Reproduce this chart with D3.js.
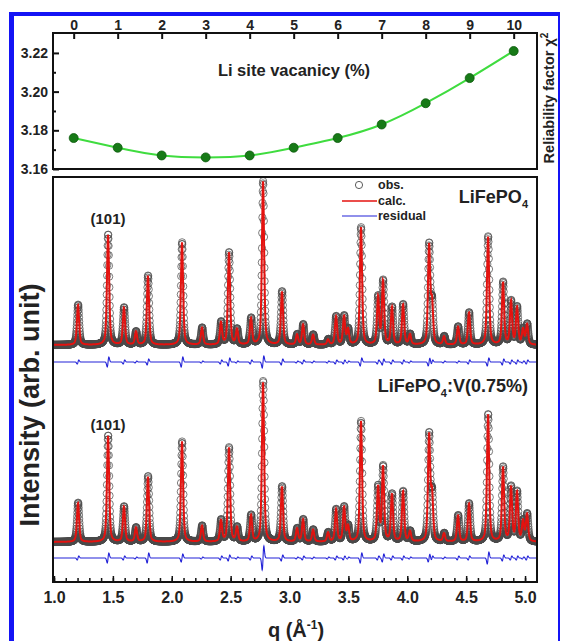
<!DOCTYPE html>
<html>
<head>
<meta charset="utf-8">
<script src="https://cdn.jsdelivr.net/npm/d3@7"></script>
<style>
  body { margin: 0; background: #fff; }
  svg { display: block; }
  text { font-family: "Liberation Sans", Arial, sans-serif; font-weight: bold; fill: #222; }
</style>
</head>
<body>
<svg id="fig" width="562" height="641"></svg>
<script>
// ---- Li-site vacancy scan: reliability factor vs vacancy ----
const vacancy = [0, 1, 2, 3, 4, 5, 6, 7, 8, 9, 10];
const chi2 = [3.176, 3.171, 3.167, 3.166, 3.167, 3.171, 3.176, 3.183, 3.194, 3.207, 3.221];
const vacancyTicks = [0, 1, 2, 3, 4, 5, 6, 7, 8, 9, 10];
const chi2Major = [3.16, 3.18, 3.20, 3.22];
const chi2Minor = [3.17, 3.19, 3.21];

// ---- Rietveld patterns: Bragg reflections (q in 1/Å) ----
const peakQ = [1.204, 1.459, 1.594, 1.696, 1.798, 2.087, 2.257, 2.418, 2.486, 2.554,
               2.673, 2.775, 2.936, 3.064, 3.115, 3.200, 3.327, 3.395, 3.463, 3.497,
               3.607, 3.752, 3.794, 3.870, 3.964, 4.023, 4.185, 4.210, 4.312, 4.431,
               4.524, 4.686, 4.813, 4.881, 4.932, 4.983, 5.017];
// peak intensities (arb. unit), LiFePO4
const heightPure = [40, 110, 37, 13, 69, 102, 17, 22, 92, 15,
                    26, 163, 53, 10, 20, 10, 5, 28, 28, 15,
                    117, 47, 63, 37, 40, 10, 98, 40, 8, 18,
                    32, 108, 62, 43, 37, 15, 20];
// peak intensities (arb. unit), LiFePO4:V(0.75%)
const heightV = [39, 106, 35, 14, 65, 100, 16, 21, 94, 14,
                 26, 159, 55, 13, 22, 12, 9, 32, 34, 15,
                 120, 54, 74, 47, 50, 10, 105, 45, 8, 26,
                 38, 127, 74, 54, 49, 20, 27];
// obs - calc misfit at each reflection
const residPure = [2, 5, 2, 1, 3, 5, 1, 2, 4, 1,
                   2, 6, 3, 1, 2, 1, 1, 2, 2, 1,
                   4, 2, 3, 2, 2, 1, 4, 2, 1, 1,
                   2, 4, 3, 2, 2, 1, 2];
const residV = [2, 5, 2, 1, 5, 4, 1, 2, 3, 1,
                2, 12, 3, 1, 2, 1, 1, 2, 2, 1,
                5, 2, 4, 2, 2, 1, 4, 2, 1, 2,
                2, 6, 3, 2, 2, 1, 2];
const qMajor = [1.0, 1.5, 2.0, 2.5, 3.0, 3.5, 4.0, 4.5, 5.0];
const qMinor = d3.range(10, 51).map(d => d / 10);

// stacking offsets of the two patterns and their difference curves
const offsetPure = 237, offsetV = 40, offsetResidPure = 220, offsetResidV = 24;

const svg = d3.select("#fig");

// ---- outer frame ----
svg.append("rect").attr("x", 9).attr("y", 12).attr("width", 5).attr("height", 629).attr("fill", "#1414f5");
svg.append("rect").attr("x", 9).attr("y", 12).attr("width", 551).attr("height", 4).attr("fill", "#1414f5");
svg.append("rect").attr("x", 558).attr("y", 12).attr("width", 2).attr("height", 629).attr("fill", "#1414f5");

// =================== upper panel ===================
const upper = { l: 53, r: 537, t: 33, b: 169 };
const xv = d3.scaleLinear().domain([-0.47, 10.53]).range([upper.l, upper.r]);
const yc = d3.scaleLinear().domain([3.16, 3.2303]).range([upper.b, upper.t]);

const gTop = svg.append("g");
const axTop = gTop.append("g").attr("transform", `translate(0,${upper.t})`)
  .call(d3.axisTop(xv).tickValues(vacancyTicks).tickSize(-6).tickSizeOuter(0).tickPadding(3).tickFormat(d3.format("d")));
const axLeft = gTop.append("g").attr("transform", `translate(${upper.l},0)`)
  .call(d3.axisLeft(yc).tickValues(chi2Major).tickSize(-6).tickSizeOuter(0).tickPadding(5).tickFormat(d3.format(".2f")));
gTop.append("g").attr("transform", `translate(${upper.l},0)`)
  .call(d3.axisLeft(yc).tickValues(chi2Minor).tickSize(-3).tickSizeOuter(0).tickFormat(""));
[axTop, axLeft].forEach(a => a.selectAll("text").style("font-size", "14px").attr("fill", "#222"));
gTop.selectAll(".domain").remove();
gTop.selectAll(".tick line").attr("stroke", "#111").attr("stroke-width", 2);

gTop.append("rect").attr("x", upper.l).attr("y", upper.t).attr("width", upper.r - upper.l).attr("height", upper.b - upper.t)
  .attr("fill", "none").attr("stroke", "#111").attr("stroke-width", 2);

const vac = vacancy.map((v, i) => [v, chi2[i]]);
gTop.append("path").datum(vac)
  .attr("d", d3.line().x(d => xv(d[0])).y(d => yc(d[1])).curve(d3.curveNatural))
  .attr("fill", "none").attr("stroke", "#3fdc3f").attr("stroke-width", 2);
gTop.selectAll("circle.pt").data(vac).join("circle").attr("class", "pt")
  .attr("cx", d => xv(d[0])).attr("cy", d => yc(d[1])).attr("r", 4.5)
  .attr("fill", "#177a17").attr("stroke", "#0c5a0c").attr("stroke-width", 0.8);

gTop.append("text").attr("x", 294).attr("y", 76).attr("text-anchor", "middle")
  .style("font-size", "16.5px").text("Li site vacanicy (%)");

const rel = svg.append("text").attr("transform", "translate(554,98) rotate(-90)")
  .attr("text-anchor", "middle").style("font-size", "14.5px");
rel.append("tspan").text("Reliability factor χ");
rel.append("tspan").attr("dy", -6).style("font-size", "10px").text("2");

// =================== lower panel ===================
const lower = { l: 53, r: 537, t: 177, b: 582 };
const xq = d3.scaleLinear().domain([0.9915, 5.1015]).range([lower.l, lower.r]);
const yi = d3.scaleLinear().domain([0, 405]).range([lower.b, lower.t]);

// pseudo-Voigt reflection profile, normalised to unit height
const fwhm = 0.022, eta = 0.5;
function profile(d) {
  const u = d / (fwhm / 2);
  return eta / (1 + u * u) + (1 - eta) * Math.exp(-Math.LN2 * u * u);
}
// antisymmetric misfit shape, unit extreme value
const sig = 0.007;
function misfit(d) {
  return (d / sig) * Math.exp(0.5 - d * d / (2 * sig * sig));
}
const qGrid = d3.range(0.995, 5.095, 0.0016);
function pattern(heights, resid) {
  return qGrid.map(q => {
    let c = 0, r = 0;
    peakQ.forEach((p, i) => {
      const d = q - p;
      c += heights[i] * profile(d);
      if (Math.abs(d) < 0.05) r += resid[i] * misfit(d);
    });
    return { q, calc: c, resid: r, obs: c + r };
  });
}

svg.append("clipPath").attr("id", "plotclip").append("rect")
  .attr("x", lower.l).attr("y", lower.t).attr("width", lower.r - lower.l).attr("height", lower.b - lower.t);
const gBot = svg.append("g");
const gData = gBot.append("g").attr("clip-path", "url(#plotclip)");

function drawPattern(data, off, roff) {
  gData.append("g").selectAll("circle").data(data).join("circle")
    .attr("cx", d => xq(d.q)).attr("cy", d => yi(d.obs + off)).attr("r", 3.6)
    .attr("fill", "none").attr("stroke", "#4a4a4a").attr("stroke-opacity", 0.8).attr("stroke-width", 0.9);
  gData.append("path").datum(data)
    .attr("d", d3.line().x(d => xq(d.q)).y(d => yi(d.calc + off)))
    .attr("fill", "none").attr("stroke", "#e4120f").attr("stroke-width", 2);
  gData.append("path").datum(data)
    .attr("d", d3.line().x(d => xq(d.q)).y(d => yi(d.resid + roff)))
    .attr("fill", "none").attr("stroke", "#2323d8").attr("stroke-width", 1.1);
}
drawPattern(pattern(heightPure, residPure), offsetPure, offsetResidPure);
drawPattern(pattern(heightV, residV), offsetV, offsetResidV);

const axB = gBot.append("g").attr("transform", `translate(0,${lower.b})`)
  .call(d3.axisBottom(xq).tickValues(qMajor).tickSize(-6).tickSizeOuter(0).tickPadding(10).tickFormat(d3.format(".1f")));
gBot.append("g").attr("transform", `translate(0,${lower.b})`)
  .call(d3.axisBottom(xq).tickValues(qMinor).tickSize(-4).tickSizeOuter(0).tickFormat(""));
axB.selectAll("text").style("font-size", "16px").attr("fill", "#222");
gBot.selectAll(".domain").remove();
gBot.selectAll(".tick line").attr("stroke", "#111").attr("stroke-width", 1.5);

gBot.append("rect").attr("x", lower.l).attr("y", lower.t).attr("width", lower.r - lower.l).attr("height", lower.b - lower.t)
  .attr("fill", "none").attr("stroke", "#111").attr("stroke-width", 2);

// reflection labels
gBot.append("text").attr("x", xq(1.459)).attr("y", 224).attr("text-anchor", "middle").style("font-size", "15px").text("(101)");
gBot.append("text").attr("x", xq(1.459)).attr("y", 430).attr("text-anchor", "middle").style("font-size", "15px").text("(101)");

// sample names
const n1 = gBot.append("text").attr("x", 528).attr("y", 203).attr("text-anchor", "end").style("font-size", "18px");
n1.append("tspan").text("LiFePO");
n1.append("tspan").attr("dy", 5).style("font-size", "11px").text("4");
const n2 = gBot.append("text").attr("x", 528).attr("y", 392).attr("text-anchor", "end").style("font-size", "18px");
n2.append("tspan").text("LiFePO");
n2.append("tspan").attr("dy", 5).style("font-size", "11px").text("4");
n2.append("tspan").attr("dy", -5).text(":V(0.75%)");

// legend
const lg = gBot.append("g");
lg.append("circle").attr("cx", 359).attr("cy", 185).attr("r", 3.6).attr("fill", "none").attr("stroke", "#4a4a4a").attr("stroke-width", 0.9);
lg.append("line").attr("x1", 342).attr("x2", 377).attr("y1", 201).attr("y2", 201).attr("stroke", "#e4120f").attr("stroke-width", 1.6);
lg.append("line").attr("x1", 342).attr("x2", 377).attr("y1", 216).attr("y2", 216).attr("stroke", "#2323d8").attr("stroke-width", 1.1);
[["obs.", 189], ["calc.", 205], ["residual", 220]].forEach(([t, y]) =>
  lg.append("text").attr("x", 378).attr("y", y).style("font-size", "12.5px").attr("fill", "#333").text(t));

// axis titles
svg.append("text").attr("transform", "translate(39,405) rotate(-90)").attr("text-anchor", "middle")
  .style("font-size", "27px").text("Intensity (arb. unit)");
const xt = svg.append("text").attr("x", 296).attr("y", 637).attr("text-anchor", "middle").style("font-size", "20px");
xt.append("tspan").text("q (Å");
xt.append("tspan").attr("dy", -8).style("font-size", "12px").text("-1");
xt.append("tspan").attr("dy", 8).text(")");
</script>
</body>
</html>
